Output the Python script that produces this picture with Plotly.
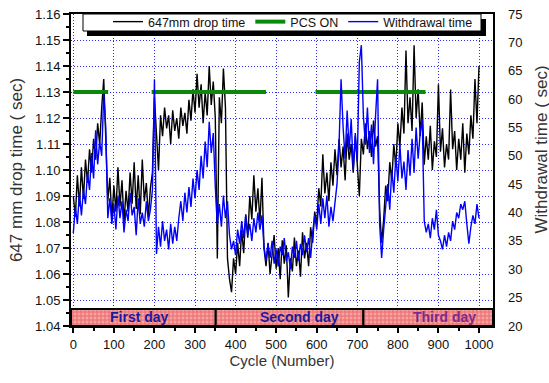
import plotly.graph_objects as go

# ---------------- data ----------------
cycles = list(range(0, 1001, 5))

drop_time = [
    1.090, 1.082, 1.098, 1.086, 1.101, 1.089, 1.104, 1.095, 1.108, 1.099, 1.112, 1.104, 1.118, 1.110, 1.124, 1.135, 1.112, 1.088, 1.097, 1.081,
    1.094, 1.084, 1.101, 1.086, 1.096, 1.080, 1.092, 1.084, 1.099, 1.087, 1.103, 1.085, 1.098, 1.083, 1.104, 1.088, 1.095, 1.082, 1.093, 1.099,
    1.128, 1.114, 1.100, 1.121, 1.113, 1.124, 1.116, 1.121, 1.110, 1.123, 1.115, 1.120, 1.112, 1.124, 1.117, 1.122, 1.114, 1.127, 1.119, 1.131,
    1.122, 1.137, 1.124, 1.133, 1.118, 1.130, 1.121, 1.140, 1.125, 1.134, 1.120, 1.066, 1.128, 1.118, 1.139, 1.124, 1.066, 1.058, 1.053, 1.066,
    1.060, 1.072, 1.063, 1.077, 1.068, 1.083, 1.074, 1.090, 1.081, 1.098, 1.084, 1.093, 1.080, 1.097, 1.070, 1.063, 1.072, 1.060, 1.068, 1.075,
    1.062, 1.070, 1.058, 1.073, 1.064, 1.071, 1.051, 1.066, 1.061, 1.074, 1.063, 1.069, 1.059, 1.076, 1.066, 1.072, 1.063, 1.078, 1.072, 1.084,
    1.079, 1.093, 1.086, 1.106, 1.091, 1.099, 1.088, 1.103, 1.094, 1.108, 1.098, 1.112, 1.101, 1.109, 1.096, 1.114, 1.104, 1.110, 1.099, 1.113,
    1.102, 1.090, 1.112, 1.106, 1.118, 1.108, 1.115, 1.105, 1.119, 1.109, 1.113, 1.085, 1.072, 1.081, 1.094, 1.088, 1.103, 1.096, 1.110, 1.101,
    1.118, 1.109, 1.124, 1.114, 1.146, 1.118, 1.128, 1.115, 1.148, 1.120, 1.131, 1.113, 1.126, 1.102, 1.113, 1.104, 1.117, 1.100, 1.111, 1.105,
    1.133, 1.107, 1.116, 1.101, 1.110, 1.104, 1.131, 1.108, 1.115, 1.100, 1.112, 1.104, 1.118, 1.099, 1.114, 1.106, 1.121, 1.112, 1.135, 1.118,
    1.140,
]

withdrawal_time = [
    36.4, 41.0, 38.0, 43.5, 39.5, 44.0, 41.5, 47.0, 44.0, 50.5, 46.0, 54.5, 48.5, 52.5, 50.0, 61.0, 55.0, 39.0, 42.5, 38.0,
    41.5, 37.0, 43.0, 39.0, 42.0, 36.5, 40.5, 38.5, 43.5, 39.5, 41.0, 36.0, 42.5, 38.0, 40.0, 37.5, 42.0, 38.5, 40.5, 44.0,
    63.5, 32.7, 37.5, 34.0, 38.5, 35.0, 37.0, 33.5, 38.0, 34.5, 37.5, 35.0, 39.0, 42.0, 38.5, 43.5, 40.0, 44.5, 41.0, 46.0,
    42.5, 47.5, 44.0, 50.0, 46.0, 52.5, 48.0, 56.0, 50.5, 54.0, 44.5, 38.0, 41.5, 37.5, 43.0, 39.0, 42.0, 36.0, 33.5, 35.0,
    32.5, 37.0, 34.5, 38.5, 35.5, 39.5, 36.0, 38.0, 35.0, 39.0, 36.5, 40.0, 37.0, 39.5, 34.0, 31.5, 34.5, 32.0, 35.0, 31.0,
    33.5, 30.5, 34.0, 32.5, 35.5, 31.5, 33.0, 30.0, 34.0, 32.0, 35.0, 31.5, 34.5, 32.5, 36.0, 33.0, 35.5, 32.0, 36.5, 39.5,
    37.0, 41.5, 38.0, 42.5, 39.0, 43.0, 37.5, 41.0, 38.5, 42.0, 45.0, 52.0, 63.5, 55.0, 49.5, 58.0, 51.0, 56.5, 47.5, 54.0,
    49.0, 66.5, 69.5, 57.0, 52.0, 58.5, 50.5, 55.5, 48.5, 57.0, 63.5, 38.0, 32.0, 37.0, 41.5, 45.0, 40.5, 47.5, 43.5, 50.0,
    45.5, 52.0, 46.0, 49.0, 44.0, 51.0, 46.5, 53.0, 47.0, 55.0, 49.5, 54.0, 56.5, 38.5, 36.5, 38.0, 35.5, 39.0, 37.0, 40.5,
    36.0, 35.0, 33.5, 36.0, 34.0, 36.5, 35.0, 38.5, 37.0, 40.0, 39.0, 41.5, 40.5, 42.0, 38.0, 34.5, 37.5, 39.5, 38.0, 41.5,
    39.0,
]

# PCS ON periods (cycle start, cycle end) at drop-time level
pcs_start = [0, 193, 597]
pcs_end = [86, 475, 868]
pcs_level = 1.13

# Day bands
day_labels = ["First day", "Second day", "Third day"]
day_start = [-5.7, 351, 715]
day_end = [351, 715, 1034.5]
day_label_pos = [164, 558, 914]

FONT = "Liberation Sans, Arial, sans-serif"
L, R, T, B = 71, 56, 14, 57
PW, PH = 549 - L - R, 383 - T - B


def px_x(p):
    return (p - L) / PW


def px_y(p):
    return (383 - B - p) / PH


fig = go.Figure()

# day band boxes (hatched)
fig.add_trace(go.Bar(
    x=[(a + b) / 2 for a, b in zip(day_start, day_end)],
    y=[0.0065] * len(day_start),
    base=1.04,
    width=[b - a for a, b in zip(day_start, day_end)],
    marker=dict(color="#f4a4a4",
                pattern=dict(shape="+", fgcolor="#e62e2e", size=4, solidity=0.45),
                line=dict(color="black", width=2)),
    showlegend=False, hoverinfo="skip",
))

fig.add_trace(go.Scatter(
    x=cycles, y=drop_time, mode="lines", name="647mm drop time",
    line=dict(color="black", width=1.4),
))

fig.add_trace(go.Scatter(
    x=[None], y=[None], mode="lines", name="PCS ON",
    line=dict(color="#0a8a0a", width=4), yaxis="y",
))

fig.add_trace(go.Scatter(
    x=cycles, y=withdrawal_time, mode="lines", name="Withdrawal time",
    line=dict(color="#0000ff", width=1.4), yaxis="y2",
))

# PCS ON segments
for a, b in zip(pcs_start, pcs_end):
    fig.add_trace(go.Scatter(
        x=[a, b], y=[pcs_level, pcs_level], mode="lines",
        line=dict(color="#0a8a0a", width=4), showlegend=False,
        hoverinfo="skip",
    ))

# day labels
for lab, xp in zip(day_labels, day_label_pos):
    fig.add_annotation(
        x=xp, y=1.0433, xref="x", yref="y", text="<b>%s</b>" % lab,
        showarrow=False, font=dict(family=FONT, size=14,
                                   color="#7a2a8e" if lab == "Third day" else "#1a1aa0"),
    )

# legend box with shadow
fig.add_shape(type="rect", xref="paper", yref="paper",
              x0=px_x(87), x1=px_x(486), y0=px_y(36), y1=px_y(19),
              fillcolor="black", line=dict(width=0), layer="above")
fig.add_shape(type="rect", xref="paper", yref="paper",
              x0=px_x(83), x1=px_x(481), y0=px_y(31), y1=1.0,
              fillcolor="white", line=dict(color="black", width=1), layer="above")

# right axis title (annotation for exact placement)
fig.add_annotation(
    x=px_x(540.5), xref="paper", y=px_y(150), yref="paper",
    xanchor="center", yanchor="middle",
    text="Withdrawal time ( sec)", textangle=-90, showarrow=False,
    font=dict(family=FONT, size=17, color="#333333"),
)

grid = dict(showgrid=True, gridcolor="#2b2bff", gridwidth=1, griddash="1px,2px")

fig.update_layout(
    width=549, height=383,
    margin=dict(l=L, r=R, t=T, b=B, autoexpand=False),
    paper_bgcolor="white", plot_bgcolor="white",
    font=dict(family=FONT, size=13, color="#111111"),
    barmode="overlay",
    showlegend=True,
    legend=dict(orientation="h", x=px_x(108), xanchor="left",
                y=px_y(7), yanchor="top", bgcolor="rgba(0,0,0,0)",
                font=dict(family=FONT, size=12.5, color="#111111"),
                itemwidth=30, tracegroupgap=0, traceorder="normal"),
    xaxis=dict(range=[-5.7, 1034.5], tick0=0, dtick=100, ticks="outside",
               ticklen=5, tickwidth=1.5, tickcolor="black",
               minor=dict(dtick=50, ticks="outside", ticklen=3, tickcolor="black"),
               showline=True, linecolor="black", linewidth=2, mirror=True,
               zeroline=False,
               title=dict(text="Cycle (Number)", standoff=3,
                          font=dict(family=FONT, size=15, color="#333333")),
               **grid),
    yaxis=dict(range=[1.04, 1.16], tick0=1.04, dtick=0.01, tickformat=".2f",
               ticks="outside", ticklen=6, tickwidth=1.5, tickcolor="black",
               minor=dict(dtick=0.005, ticks="outside", ticklen=3, tickcolor="black"),
               showline=True, linecolor="black", linewidth=2, mirror=True,
               zeroline=False,
               title=dict(text="647 mm drop time ( sec)", standoff=8,
                          font=dict(family=FONT, size=17, color="#333333")),
               **grid),
    yaxis2=dict(range=[20, 75], tick0=20, dtick=5, overlaying="y", side="right",
                showgrid=False, zeroline=False, ticks="", ticklabelstandoff=14,
                showline=False),
)

fig.write_html("out.html", config={"displayModeBar": False},
               post_script="document.body.style.margin='0';")
